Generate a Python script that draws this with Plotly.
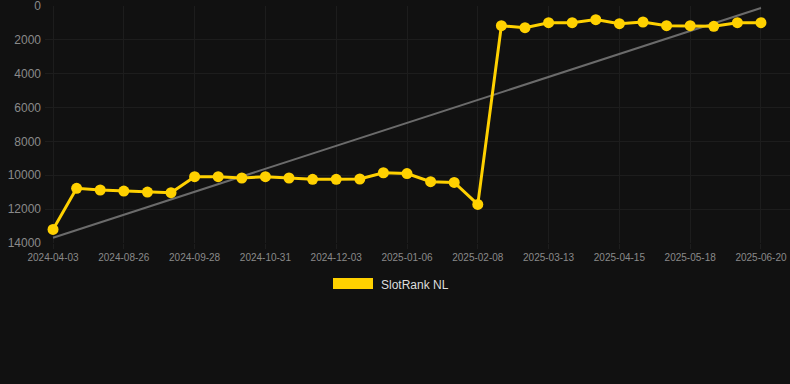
import numpy as np
import plotly.graph_objects as go

dates = [
    "2024-04-03", "2024-08-04", "2024-08-15", "2024-08-26", "2024-09-06", "2024-09-17",
    "2024-09-28", "2024-10-09", "2024-10-20", "2024-10-31", "2024-11-11", "2024-11-22",
    "2024-12-03", "2024-12-14", "2024-12-25", "2025-01-06", "2025-01-17", "2025-01-28",
    "2025-02-08", "2025-02-19", "2025-03-02", "2025-03-13", "2025-03-24", "2025-04-04",
    "2025-04-15", "2025-04-26", "2025-05-07", "2025-05-18", "2025-05-29", "2025-06-09",
    "2025-06-20",
]
ranks = [
    13200, 10770, 10870, 10930, 10990, 11030,
    10080, 10080, 10160, 10080, 10160, 10240,
    10240, 10220, 9850, 9900, 10380, 10420,
    11720, 1160, 1280, 985, 985, 805,
    1045, 945, 1160, 1160, 1200, 985,
    985,
]
y_ticks = [0, 2000, 4000, 6000, 8000, 10000, 12000, 14000]
series_name = "SlotRank NL"

idx = np.arange(len(dates))
slope, intercept = np.polyfit(idx, ranks, 1)
trend = [intercept + slope * idx[0], intercept + slope * idx[-1]]

YELLOW = "#FFD100"
BG = "#111111"
GRID = "#1d1d1d"

fig = go.Figure()
fig.add_trace(go.Scatter(
    x=[idx[0], idx[-1]], y=trend, mode="lines",
    line=dict(color="#6b6b6b", width=2), hoverinfo="skip", showlegend=False,
))
fig.add_trace(go.Scatter(
    x=idx, y=ranks, mode="lines+markers", name=series_name,
    line=dict(color=YELLOW, width=3),
    marker=dict(color=YELLOW, size=11),
    showlegend=False,
))

tick_idx = list(idx[::3])
fig.update_layout(
    width=790, height=384,
    margin=dict(l=45, r=0, t=6, b=141),
    paper_bgcolor=BG, plot_bgcolor=BG,
    font=dict(family="Liberation Sans, Arial, sans-serif", color="#8a8a8a"),
    xaxis=dict(
        range=[-0.34, 31.23], tickmode="array", tickvals=tick_idx,
        ticktext=[dates[i] for i in tick_idx], tickfont=dict(size=10, color="#8a8a8a"),
        showgrid=True, gridcolor=GRID, gridwidth=1, zeroline=False,
        ticks="outside", ticklen=5, tickcolor=GRID, showline=False,
        ticklabeloverflow="allow",
    ),
    yaxis=dict(
        range=[14000, 0], tickmode="array", tickvals=y_ticks,
        ticktext=[str(v) for v in y_ticks],
        tickfont=dict(size=12, color="#8a8a8a"),
        showgrid=True, gridcolor=GRID, gridwidth=1, zeroline=False,
        ticks="", ticklabelstandoff=3, showline=False,
        ticklabeloverflow="allow",
    ),
    shapes=[dict(
        type="rect", xref="paper", yref="paper",
        x0=(333 - 45) / 745, x1=(373 - 45) / 745,
        y0=(243 - 289) / 237, y1=(243 - 278) / 237,
        fillcolor=YELLOW, line=dict(color=YELLOW, width=0),
    )],
    annotations=[dict(
        text=series_name, xref="paper", yref="paper",
        x=(379 - 45) / 745, y=(243 - 284.5) / 237,
        xanchor="left", yanchor="middle", showarrow=False,
        font=dict(size=12, color="#dddddd"),
    )],
)

fig.write_html(
    "out.html",
    config={"displayModeBar": False},
    post_script="document.body.style.margin='0';document.body.style.background='#111111';",
)
